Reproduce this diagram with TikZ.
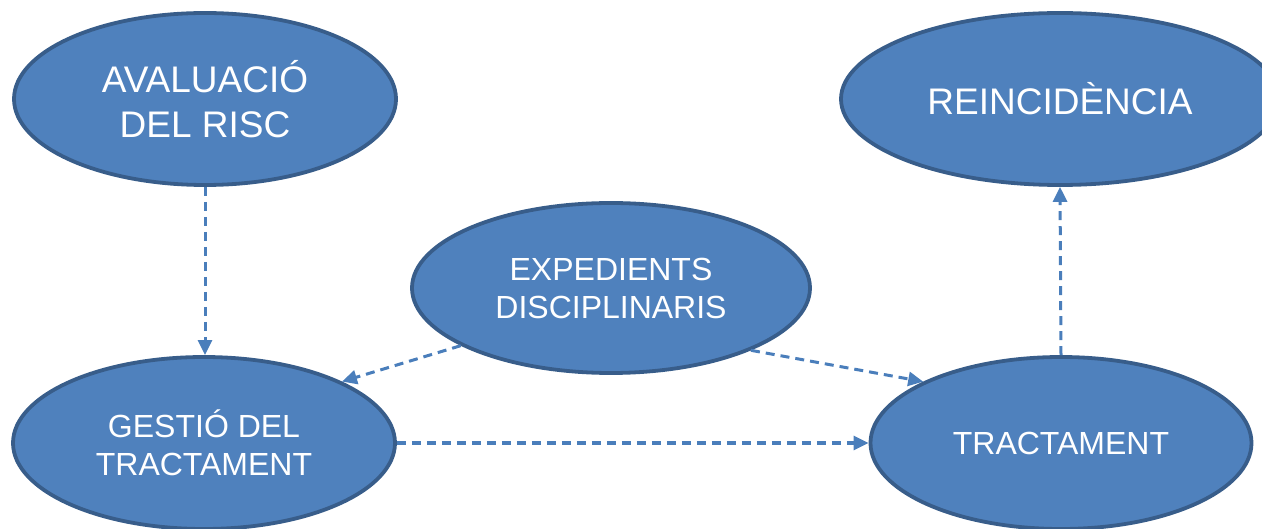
\documentclass[tikz,border=0pt]{standalone}
\usepackage{fontspec}
\setmainfont{Liberation Sans}
\usetikzlibrary{shapes.geometric,arrows.meta}
\definecolor{fillblue}{HTML}{4F81BD}
\definecolor{edgeblue}{HTML}{385D8A}
\definecolor{arrowblue}{HTML}{4A7EBB}
\begin{document}
\begin{tikzpicture}[x=1pt,y=-1pt,
  oval/.style={ellipse, draw=edgeblue, line width=3.8pt, fill=fillblue, text=white, inner sep=0pt, align=center},
  bigtext/.style={font=\fontsize{37}{45}\selectfont},
  smalltext/.style={font=\fontsize{32}{38}\selectfont},
  conn/.style={draw=arrowblue, line width=3pt, dash pattern=on 9pt off 6pt, -{Triangle[length=15pt,width=14pt]}}]
\useasboundingbox (0,0) rectangle (1262,529);
\clip (0,0) rectangle (1262,529);
\node[oval, bigtext, minimum width=382pt, minimum height=172pt] (aval) at (205,99) {AVALUACIÓ\\DEL RISC};
\node[oval, bigtext, minimum width=438pt, minimum height=172pt] (rein) at (1060,99) {REINCIDÈNCIA};
\node[oval, smalltext, minimum width=398pt, minimum height=170pt] (exp) at (611,288) {EXPEDIENTS\\DISCIPLINARIS};
\node[oval, smalltext, minimum width=382pt, minimum height=172pt] (gest) at (204,443) {GESTIÓ DEL\\TRACTAMENT};
\node[oval, smalltext, minimum width=381pt, minimum height=172pt] (tract) at (1061,443) {TRACTAMENT};
\draw[conn] (aval.south) -- (aval.south |- gest.north);
\draw[conn] (exp.201.7) -- (gest.24.2);
\draw[conn] (exp.336.3) -- (tract.156.2);
\draw[conn] (gest.east) -- (tract.west);
\draw[conn] (tract.north) -- (rein.south);
\end{tikzpicture}
\end{document}
